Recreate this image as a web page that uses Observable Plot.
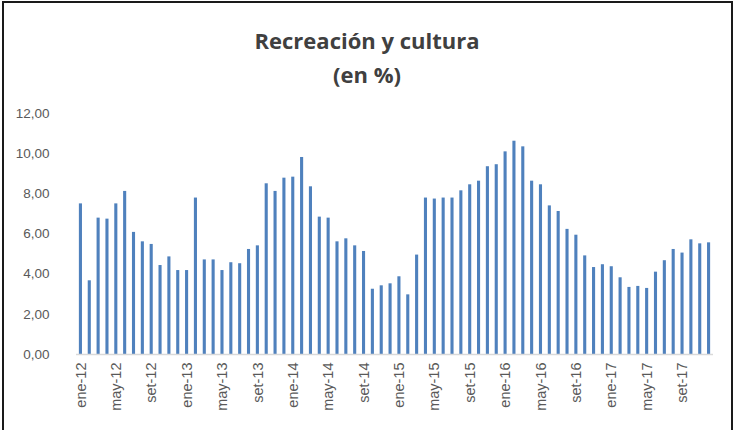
<!DOCTYPE html>
<html>
<head>
<meta charset="utf-8">
<script src="https://cdn.jsdelivr.net/npm/d3@7"></script>
<script src="https://cdn.jsdelivr.net/npm/@observablehq/plot@0.6"></script>
<style>
  html, body { margin: 0; padding: 0; background: #fff; }
  #wrap { position: relative; width: 734px; height: 430px; overflow: hidden; }
  #frame { position: absolute; left: 2px; top: 1px; width: 727px; height: 460px; border: 2px solid #1a1a1a; pointer-events: none; }
  #title { height: 100px; text-align: center; font-family: "Open Sans", sans-serif; font-weight: 700; color: #404040; font-size: 22px; line-height: 34px; box-sizing: border-box; }
  #title div:first-child { padding-top: 23px; }
</style>
</head>
<body>
<div id="wrap">
  <div id="title"><div>Recreación y cultura</div><div>(en %)</div></div>
  <div id="chart"></div>
  <div id="frame"></div>
</div>
<script>
const years = [12, 13, 14, 15, 16, 17];
const monthNames = ["ene", "feb", "mar", "abr", "may", "jun", "jul", "ago", "set", "oct", "nov", "dic"];
const values2012 = [7.50, 3.67, 6.79, 6.74, 7.50, 8.12, 6.08, 5.61, 5.48, 4.43, 4.86, 4.18];
const values2013 = [4.18, 7.79, 4.71, 4.71, 4.18, 4.57, 4.52, 5.23, 5.41, 8.50, 8.12, 8.78];
const values2014 = [8.83, 9.81, 8.35, 6.84, 6.79, 5.61, 5.76, 5.41, 5.13, 3.25, 3.42, 3.52];
const values2015 = [3.87, 2.97, 4.95, 7.79, 7.74, 7.79, 7.79, 8.15, 8.45, 8.63, 9.35, 9.45];
const values2016 = [10.09, 10.62, 10.34, 8.63, 8.45, 7.40, 7.12, 6.23, 5.94, 4.91, 4.33, 4.47];
const values2017 = [4.37, 3.82, 3.34, 3.39, 3.29, 4.10, 4.67, 5.23, 5.05, 5.71, 5.51, 5.56];
const yTicks = [0, 2, 4, 6, 8, 10, 12];

const allValues = [values2012, values2013, values2014, values2015, values2016, values2017];
const data = [];
years.forEach((y, yi) => {
  monthNames.forEach((m, mi) => {
    data.push({ label: `${m}-${y}`, idx: yi * 12 + mi, value: allValues[yi][mi] });
  });
});
const labels = data.map(d => d.label);

const fmt = v => d3.format(".2f")(v).replace(".", ",");

const chart = Plot.plot({
  width: 734,
  height: 330,
  marginLeft: 76,
  marginRight: 21,
  marginTop: 13,
  marginBottom: 76,
  style: { fontFamily: "'Liberation Sans', Arial, sans-serif", color: "#595959", background: "transparent" },
  x: { type: "band", domain: labels, paddingInner: 0.65, paddingOuter: 0.325, label: null },
  y: { domain: [0, 12], label: null },
  marks: [
    Plot.axisY({ ticks: yTicks, tickFormat: fmt, tickSize: 0, tickPadding: 27, fontSize: 13.5, label: null }),
    Plot.axisX({ ticks: labels.filter((d, i) => i % 4 === 0), tickSize: 0, tickPadding: 8, tickRotate: -90, fontSize: 14.5, label: null }),
    Plot.barY(data, { x: "label", y: "value", fill: "#4f81bd" }),
    Plot.ruleY([0], { stroke: "#d9d9d9", strokeWidth: 1.5 })
  ]
});
document.getElementById("chart").appendChild(chart);
</script>
</body>
</html>
